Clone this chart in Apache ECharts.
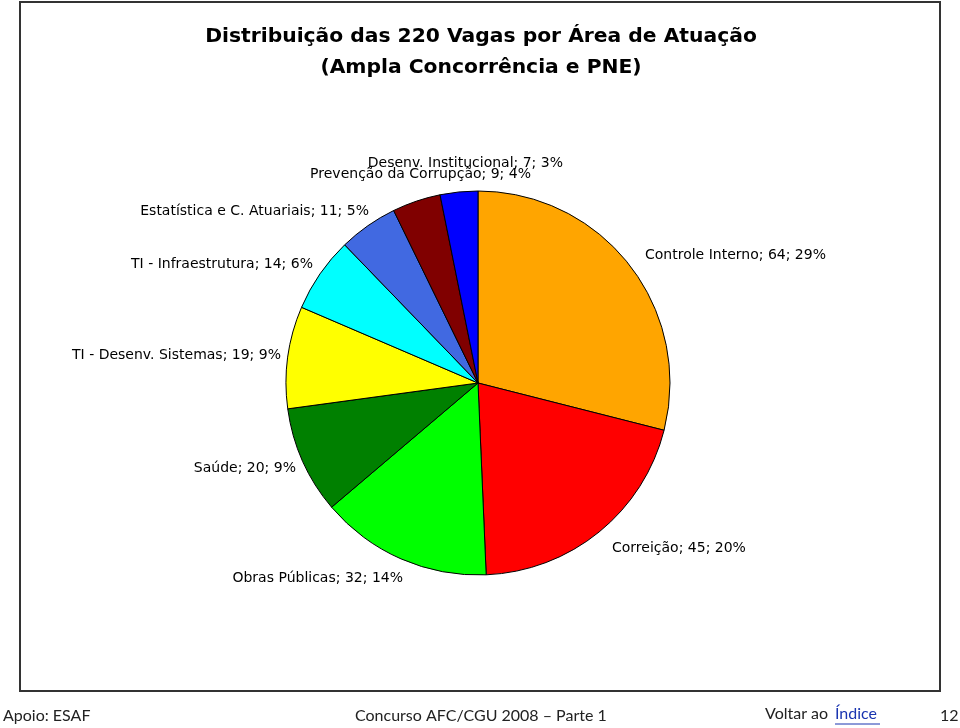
<!DOCTYPE html>
<html><head><meta charset="utf-8">
<script src="https://cdn.jsdelivr.net/npm/echarts@6/dist/echarts.min.js"></script>
<style>html,body{margin:0;padding:0;background:#fff}#c{width:960px;height:728px}</style>
</head><body><div id="c"></div>
<script>
const categories = ['Controle Interno','Correição','Obras Públicas','Saúde','TI - Desenv. Sistemas','TI - Infraestrutura','Estatística e C. Atuariais','Prevenção da Corrupção','Desenv. Institucional'];
const values = [64,45,32,20,19,14,11,9,7];
const colors = ['#FFA500','#FF0000','#00FF00','#008000','#FFFF00','#00FFFF','#4169E1','#800000','#0000FF'];
const labelPos = [[645,255,'left'],[612,548,'left'],[403,578,'right'],[296,468,'right'],[281,355,'right'],[313,264,'right'],[369,211,'right'],[531,174,'right'],[563,163,'right']];
const total = values.reduce((a,b)=>a+b,0);

const chart = echarts.init(document.getElementById('c'));
chart.setOption({
  animation:false,
  title:{
    text:'Distribuição das 220 Vagas por Área de Atuação\n(Ampla Concorrência e PNE)',
    left:476, top:16, textAlign:'center',
    textStyle:{fontFamily:'DejaVu Sans', fontWeight:'bold', fontSize:20.3, lineHeight:31, color:'#000'}
  },
  series:[{
    type:'pie', center:[478,383], radius:192, startAngle:90, clockwise:true,
    data: categories.map((n,i)=>({name:n, value:values[i], itemStyle:{color:colors[i]}})),
    itemStyle:{borderColor:'#000', borderWidth:1},
    label:{show:true, position:'outside', color:'#000', fontFamily:'DejaVu Sans', fontSize:14,
      formatter:p=>p.name+'; '+p.value+'; '+Math.round(p.value/total*100)+'%'},
    labelLine:{show:false},
    labelLayout:function(p){const lp=labelPos[p.dataIndex];return {x:lp[0],y:lp[1],align:lp[2],verticalAlign:'middle'};},
    emphasis:{disabled:true}
  }],
  graphic:[
    {type:'rect', shape:{x:20,y:2,width:920,height:689}, style:{fill:'none', stroke:'#333', lineWidth:2}},
    {type:'text', left:3, top:708, style:{text:'Apoio: ESAF', font:'16px Lato, "Open Sans", sans-serif', fill:'#222'}},
    {type:'text', left:355, top:708, style:{text:'Concurso AFC/CGU 2008 – Parte 1', font:'16px Lato, "Open Sans", sans-serif', fill:'#222'}},
    {type:'text', left:765, top:706, style:{text:'Voltar ao', font:'16px Lato, "Open Sans", sans-serif', fill:'#222'}},
    {type:'text', left:835, top:706, style:{text:'Índice', font:'16px Lato, "Open Sans", sans-serif', fill:'#1a35b0'}},
    {type:'line', shape:{x1:835,y1:724,x2:880,y2:724}, style:{stroke:'#1a35b0', lineWidth:1}},
    {type:'text', left:940, top:708, style:{text:'12', font:'16px Lato, "Open Sans", sans-serif', fill:'#222'}}
  ]
});
</script></body></html>
